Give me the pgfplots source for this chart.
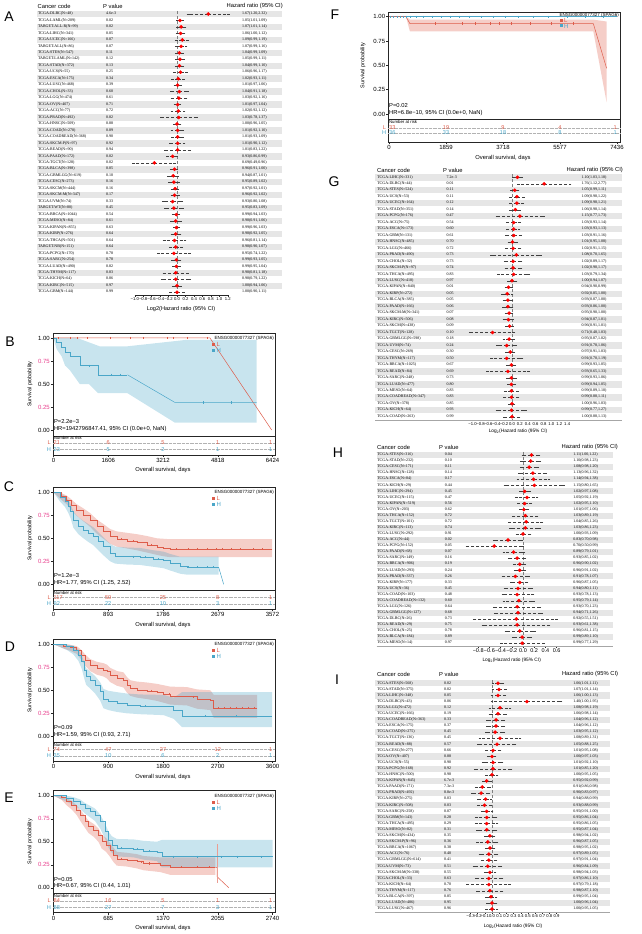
\documentclass[border=0pt]{standalone}
\usepackage{fontspec}
\setmainfont{Liberation Sans}
\newfontfamily\tms{Liberation Serif}
\usepackage{pgfplots}
\pgfplotsset{compat=1.18}
\usepackage{pgfplotstable}
\definecolor{Lc}{RGB}{221,92,74}
\definecolor{Hc}{RGB}{74,166,200}
\definecolor{pk}{RGB}{232,62,140}
\definecolor{bandc}{RGB}{230,230,230}
\newcommand\fs[1]{\fontsize{#1}{#1}\selectfont}
\newcommand\lt[1]{\raisebox{-1.4pt}[0pt][0pt]{\makebox[0pt][l]{\tms\fs{4}#1}}}

\pgfplotsset{
 forest/.style={scale only axis, axis y line=none, axis x line*=bottom, clip=false,
   tick align=outside, major tick length=1.5pt,
   axis line style={line width=0.35pt,black!85,-}, tick style={line width=0.35pt,black!85},
   xticklabel style={font=\fs{4.2},inner sep=0.8pt}},
 txt/.style={draw=none, point meta=explicit symbolic,
   every node near coord/.append style={inner sep=0pt}},
 fpts/.style={only marks, mark=*, mark size=1.6pt, color=red,
   error bars/.cd, x dir=both, x explicit,
   error bar style={densely dashed, black!75, line width=0.3pt},
   error mark options={black!75, line width=0.3pt, mark size=1.4pt}},
 kmmain/.style={scale only axis, width=222pt, height=103pt, ymin=-0.0652, ymax=1.0543,
   xtick=\empty, ytick={0,0.25,0.5,0.75,1}, ytick pos=left, tick align=outside,
   major tick length=2pt, axis line style={line width=0.5pt,black!85},
   tick style={line width=0.4pt,black!85}, yticklabel style={font=\fs{6},inner sep=1pt},
   yticklabels={0.00,\textcolor{pk}{0.25},0.50,\textcolor{pk}{0.75},1.00}},
 kmrisk/.style={scale only axis, width=222pt, height=19pt, ymin=0, ymax=3, ytick=\empty,
   xtick pos=left, tick align=outside, major tick length=2pt,
   axis line style={line width=0.5pt,black!85}, tick style={line width=0.4pt,black!85},
   xticklabel style={font=\fs{6},inner sep=1pt}, clip=false},
 cen/.style={only marks, mark=|, mark size=1.1pt, mark options={line width=0.3pt}},
 bandL/.style={fill=Lc, fill opacity=0.3, draw=none},
 bandH/.style={fill=Hc, fill opacity=0.3, draw=none},
}

\newcommand\forestplots[4]{%
 \addplot[txt, nodes near coords={\lt{\pgfplotspointmeta}}] table[x expr=#2, y expr={-\coordindex-1}, meta=name]{#1};
 \addplot[txt, nodes near coords={\lt{\pgfplotspointmeta}}] table[x expr=#3, y expr={-\coordindex-1}, meta=p]{#1};
 \addplot[txt, nodes near coords={\lt{\pgfplotspointmeta}}] table[x expr=#4, y expr={-\coordindex-1}, meta=ci]{#1};
 \addplot[fpts] table[x expr={log2(\thisrow{hr})}, y expr={-\coordindex-1},
   x error plus expr={log2(\thisrow{up})-log2(\thisrow{hr})},
   x error minus expr={log2(\thisrow{hr})-log2(\thisrow{lo})}]{#1};
}
\newcommand\riskrow[7]{%
 \node[anchor=west,text=#1,font=\fs{5.6},inner sep=0] at (axis cs:0,#2) {#3};
 \node[text=#1,font=\fs{5.6},inner sep=0] at (axis cs:\ta,#2) {#4};
 \node[text=#1,font=\fs{5.6},inner sep=0] at (axis cs:\tb,#2) {#5};
 \node[text=#1,font=\fs{5.6},inner sep=0] at (axis cs:\tc,#2) {#6};
 \node[anchor=east,text=#1,font=\fs{5.6},inner sep=0] at (axis cs:\td,#2) {#7};}
\newcommand\riskdeco[2]{%
 \draw[densely dotted, gray!60, line width=0.3pt] (rel axis cs:0,#1) -- (rel axis cs:1,#1);
 \draw[densely dotted, gray!60, line width=0.3pt] (rel axis cs:0,#2) -- (rel axis cs:1,#2);
 \node[anchor=north west,font=\fs{4.3},inner sep=0.6pt] at (rel axis cs:0,1) {Number at risk};
 \node[anchor=east,text=Lc,font=\fs{5.6},inner sep=0,xshift=-2pt] at (rel axis cs:0,#1) {L};
 \node[anchor=east,text=Hc,font=\fs{5.6},inner sep=0,xshift=-2pt] at (rel axis cs:0,#2) {H};}
\newcommand\kmleg[5]{%
 \node[anchor=east,font=\fs{4.5},inner sep=0] at (#5,-#2) {ENSG00000077327 (SPAG6)};
 \fill[Lc] (#1-1.5,-#3-1.5) rectangle (#1+1.5,-#3+1.5);
 \node[anchor=west,font=\fs{6},text=Lc,inner sep=0] at (#1+3,-#3) {L};
 \fill[Hc] (#1-1.5,-#4-1.5) rectangle (#1+1.5,-#4+1.5);
 \node[anchor=west,font=\fs{6},text=Hc,inner sep=0] at (#1+3,-#4) {H};}
\newcommand\kmtxt[5]{%
 \node[anchor=west,font=\fs{5.8},inner sep=0] at (#1,-#2) {#4};
 \node[anchor=west,font=\fs{5.8},inner sep=0] at (#1,-#3) {#5};}
\newcommand\kmlab[4]{%
 \node[font=\fs{5.8},inner sep=0] at (#1,-#2) {Overall survival, days};
 \node[font=\fs{5.4},rotate=90,inner sep=0] at (#3,-#4) {Survival probability};}
\newcommand\fhead[4]{%
 \node[anchor=west,font=\fs{5.8},inner sep=0] at (#1,-#4) {Cancer code};
 \node[anchor=west,font=\fs{5.8},inner sep=0] at (#2,-#4) {P value};
 \node[anchor=east,font=\fs{5.8},inner sep=0] at (#3,-#4) {Hazard ratio (95\% CI)};}

% ---------------- forest data ----------------
\pgfplotstableread[col sep=semicolon]{
name;p;hr;lo;up;ci
TCGA-DLBC(N=48);4.6e-3;1.67;1.20;2.32;1.67(1.20,2.32)
TCGA-LAML(N=209);0.02;1.05;1.01;1.09;1.05(1.01,1.09)
TARGET-ALL-R(N=99);0.02;1.07;1.01;1.14;1.07(1.01,1.14)
TCGA-LIHC(N=341);0.05;1.06;1.00;1.12;1.06(1.00,1.12)
TCGA-UCEC(N=166);0.07;1.09;0.99;1.19;1.09(0.99,1.19)
TARGET-ALL(N=86);0.07;1.07;0.99;1.16;1.07(0.99,1.16)
TCGA-STES(N=547);0.11;1.04;0.99;1.09;1.04(0.99,1.09)
TARGET-LAML(N=142);0.12;1.05;0.99;1.11;1.05(0.99,1.11)
TCGA-STAD(N=372);0.13;1.04;0.99;1.10;1.04(0.99,1.10)
TCGA-UCS(N=55);0.25;1.06;0.96;1.17;1.06(0.96,1.17)
TCGA-ESCA(N=175);0.34;1.02;0.93;1.11;1.02(0.93,1.11)
TCGA-LUSC(N=468);0.39;1.01;0.97;1.06;1.01(0.97,1.06)
TCGA-CHOL(N=33);0.60;1.04;0.91;1.18;1.04(0.91,1.18)
TCGA-LGG(N=474);0.61;1.03;0.92;1.16;1.03(0.92,1.16)
TCGA-OV(N=407);0.71;1.01;0.97;1.04;1.01(0.97,1.04)
TCGA-ACC(N=77);0.72;1.02;0.92;1.12;1.02(0.92,1.12)
TCGA-PRAD(N=492);0.82;1.03;0.78;1.37;1.03(0.78,1.37)
TCGA-HNSC(N=509);0.88;1.00;0.96;1.05;1.00(0.96,1.05)
TCGA-COAD(N=278);0.89;1.01;0.92;1.10;1.01(0.92,1.10)
TCGA-COADREAD(N=368);0.90;1.01;0.93;1.09;1.01(0.93,1.09)
TCGA-SKCM-P(N=97);0.92;1.01;0.90;1.12;1.01(0.90,1.12)
TCGA-READ(N=90);0.94;1.01;0.83;1.22;1.01(0.83,1.22)
TCGA-PAAD(N=172);0.02;0.93;0.86;0.99;0.93(0.86,0.99)
TCGA-TGCT(N=128);0.02;0.69;0.49;0.96;0.69(0.49,0.96)
TCGA-BLCA(N=398);0.05;0.96;0.91;1.00;0.96(0.91,1.00)
TCGA-GBMLGG(N=619);0.10;0.94;0.87;1.01;0.94(0.87,1.01)
TCGA-CESC(N=273);0.16;0.95;0.89;1.02;0.95(0.89,1.02)
TCGA-SKCM(N=444);0.16;0.97;0.92;1.01;0.97(0.92,1.01)
TCGA-SKCM-M(N=347);0.17;0.96;0.92;1.02;0.96(0.92,1.02)
TCGA-UVM(N=74);0.33;0.93;0.80;1.08;0.93(0.80,1.08)
TARGET-WT(N=80);0.45;0.95;0.83;1.09;0.95(0.83,1.09)
TCGA-BRCA(N=1044);0.54;0.99;0.94;1.03;0.99(0.94,1.03)
TCGA-MESO(N=84);0.61;0.98;0.91;1.06;0.98(0.91,1.06)
TCGA-KIPAN(N=855);0.63;0.99;0.96;1.03;0.99(0.96,1.03)
TCGA-KIRP(N=276);0.64;0.98;0.92;1.05;0.98(0.92,1.05)
TCGA-THCA(N=501);0.64;0.96;0.81;1.14;0.96(0.81,1.14)
TARGET-NB(N=151);0.64;0.98;0.90;1.07;0.98(0.90,1.07)
TCGA-PCPG(N=170);0.78;0.95;0.74;1.22;0.95(0.74,1.22)
TCGA-SARC(N=254);0.78;0.99;0.93;1.05;0.99(0.93,1.05)
TCGA-LUAD(N=490);0.82;0.99;0.95;1.04;0.99(0.95,1.04)
TCGA-THYM(N=117);0.83;0.98;0.81;1.18;0.98(0.81,1.18)
TCGA-KICH(N=64);0.86;0.98;0.79;1.22;0.98(0.79,1.22)
TCGA-KIRC(N=515);0.97;1.00;0.94;1.06;1.00(0.94,1.06)
TCGA-GBM(N=144);0.99;1.00;0.90;1.11;1.00(0.90,1.11)
}\tabA

\pgfplotstableread[col sep=semicolon]{
name;p;hr;lo;up;ci
TCGA-LIHC(N=331);7.2e-3;1.10;1.03;1.18;1.10(1.03,1.18)
TCGA-DLBC(N=44);0.01;1.76;1.12;2.77;1.76(1.12,2.77)
TCGA-STES(N=524);0.11;1.05;0.99;1.11;1.05(0.99,1.11)
TCGA-UCS(N=53);0.11;1.09;0.98;1.22;1.09(0.98,1.22)
TCGA-UCEC(N=164);0.12;1.09;0.98;1.21;1.09(0.98,1.21)
TCGA-STAD(N=351);0.14;1.06;0.98;1.14;1.06(0.98,1.14)
TCGA-PCPG(N=176);0.47;1.15;0.77;1.73;1.15(0.77,1.73)
TCGA-ACC(N=75);0.54;1.03;0.93;1.14;1.03(0.93,1.14)
TCGA-ESCA(N=173);0.60;1.03;0.93;1.13;1.03(0.93,1.13)
TCGA-GBM(N=131);0.61;1.03;0.91;1.16;1.03(0.91,1.16)
TCGA-HNSC(N=485);0.70;1.01;0.95;1.08;1.01(0.95,1.08)
TCGA-LGG(N=466);0.72;1.02;0.91;1.15;1.02(0.91,1.15)
TCGA-PRAD(N=490);0.73;1.08;0.70;1.65;1.08(0.70,1.65)
TCGA-CHOL(N=32);0.73;1.02;0.89;1.17;1.02(0.89,1.17)
TCGA-SKCM-P(N=97);0.74;1.02;0.90;1.17;1.02(0.90,1.17)
TCGA-THCA(N=495);0.83;1.03;0.79;1.34;1.03(0.79,1.34)
TCGA-LUSC(N=418);0.97;1.00;0.94;1.07;1.00(0.94,1.07)
TCGA-KIPAN(N=840);0.01;0.94;0.90;0.99;0.94(0.90,0.99)
TCGA-KIRP(N=272);0.05;0.92;0.85;1.00;0.92(0.85,1.00)
TCGA-BLCA(N=385);0.05;0.93;0.87;1.00;0.93(0.87,1.00)
TCGA-PAAD(N=166);0.06;0.93;0.86;1.00;0.93(0.86,1.00)
TCGA-SKCM-M(N=341);0.07;0.95;0.90;1.00;0.95(0.90,1.00)
TCGA-KIRC(N=506);0.08;0.94;0.87;1.01;0.94(0.87,1.01)
TCGA-SKCM(N=438);0.09;0.96;0.91;1.01;0.96(0.91,1.01)
TCGA-TGCT(N=128);0.10;0.71;0.48;1.03;0.71(0.48,1.03)
TCGA-GBMLGG(N=598);0.18;0.95;0.87;1.02;0.95(0.87,1.02)
TCGA-UVM(N=74);0.24;0.91;0.78;1.06;0.91(0.78,1.06)
TCGA-CESC(N=269);0.30;0.97;0.91;1.03;0.97(0.91,1.03)
TCGA-THYM(N=117);0.50;0.91;0.70;1.19;0.91(0.70,1.19)
TCGA-BRCA(N=1025);0.67;0.99;0.93;1.05;0.99(0.93,1.05)
TCGA-READ(N=84);0.69;0.93;0.65;1.33;0.93(0.65,1.33)
TCGA-SARC(N=248);0.73;0.99;0.93;1.06;0.99(0.93,1.06)
TCGA-LUAD(N=477);0.80;0.99;0.94;1.05;0.99(0.94,1.05)
TCGA-MESO(N=64);0.83;0.99;0.89;1.10;0.99(0.89,1.10)
TCGA-COADREAD(N=347);0.83;0.99;0.88;1.11;0.99(0.88,1.11)
TCGA-OV(N=378);0.85;1.00;0.96;1.03;1.00(0.96,1.03)
TCGA-KICH(N=64);0.93;0.99;0.77;1.27;0.99(0.77,1.27)
TCGA-COAD(N=263);0.99;1.00;0.88;1.13;1.00(0.88,1.13)
}\tabG

\pgfplotstableread[col sep=semicolon]{
name;p;hr;lo;up;ci
TCGA-STES(N=316);0.04;1.11;1.00;1.22;1.11(1.00,1.22)
TCGA-STAD(N=232);0.10;1.10;0.98;1.23;1.10(0.98,1.23)
TCGA-CESC(N=171);0.11;1.08;0.98;1.20;1.08(0.98,1.20)
TCGA-HNSC(N=128);0.14;1.13;0.96;1.32;1.13(0.96,1.32)
TCGA-ESCA(N=84);0.17;1.14;0.94;1.38;1.14(0.94,1.38)
TCGA-KICH(N=29);0.44;1.15;0.80;1.65;1.15(0.80,1.65)
TCGA-LIHC(N=294);0.45;1.02;0.97;1.08;1.02(0.97,1.08)
TCGA-UCEC(N=115);0.47;1.05;0.92;1.19;1.05(0.92,1.19)
TCGA-KIPAN(N=519);0.56;1.02;0.95;1.10;1.02(0.95,1.10)
TCGA-OV(N=203);0.62;1.01;0.97;1.06;1.01(0.97,1.06)
TCGA-THCA(N=152);0.72;1.03;0.89;1.19;1.03(0.89,1.19)
TCGA-TGCT(N=101);0.72;1.04;0.85;1.26;1.04(0.85,1.26)
TCGA-KIRC(N=113);0.74;1.03;0.86;1.23;1.03(0.86,1.23)
TCGA-LUSC(N=292);0.91;1.00;0.93;1.09;1.00(0.93,1.09)
TCGA-ACC(N=44);0.02;0.83;0.70;0.98;0.83(0.70,0.98)
TCGA-PCPG(N=152);0.05;0.70;0.50;0.99;0.70(0.50,0.99)
TCGA-PAAD(N=68);0.07;0.89;0.79;1.01;0.89(0.79,1.01)
TCGA-SARC(N=149);0.16;0.93;0.85;1.02;0.93(0.85,1.02)
TCGA-BRCA(N=906);0.19;0.96;0.90;1.02;0.96(0.90,1.02)
TCGA-LUAD(N=293);0.24;0.96;0.91;1.02;0.96(0.91,1.02)
TCGA-PRAD(N=337);0.26;0.91;0.78;1.07;0.91(0.78,1.07)
TCGA-KIRP(N=177);0.33;0.96;0.87;1.05;0.96(0.87,1.05)
TCGA-UCS(N=36);0.45;0.94;0.80;1.11;0.94(0.80,1.11)
TCGA-COAD(N=103);0.48;0.93;0.78;1.13;0.93(0.78,1.13)
TCGA-COADREAD(N=132);0.60;0.95;0.79;1.14;0.95(0.79,1.14)
TCGA-LGG(N=126);0.64;0.93;0.70;1.23;0.93(0.70,1.23)
TCGA-GBMLGG(N=127);0.68;0.94;0.71;1.26;0.94(0.71,1.26)
TCGA-DLBC(N=26);0.73;0.92;0.55;1.51;0.92(0.55,1.51)
TCGA-READ(N=29);0.75;0.93;0.61;1.38;0.93(0.61,1.38)
TCGA-CHOL(N=25);0.78;0.96;0.81;1.15;0.96(0.81,1.15)
TCGA-BLCA(N=184);0.89;0.99;0.89;1.10;0.99(0.89,1.10)
TCGA-MESO(N=14);0.97;0.99;0.77;1.29;0.99(0.77,1.29)
}\tabH

\pgfplotstableread[col sep=semicolon]{
name;p;hr;lo;up;ci
TCGA-STES(N=568);0.02;1.06;1.01;1.11;1.06(1.01,1.11)
TCGA-STAD(N=375);0.02;1.07;1.01;1.14;1.07(1.01,1.14)
TCGA-LIHC(N=348);0.05;1.06;1.00;1.13;1.06(1.00,1.13)
TCGA-DLBC(N=43);0.06;1.40;1.00;1.95;1.40(1.00,1.95)
TCGA-LGG(N=472);0.12;1.08;0.98;1.19;1.08(0.98,1.19)
TCGA-UCEC(N=166);0.19;1.06;0.98;1.14;1.06(0.98,1.14)
TCGA-COADREAD(N=363);0.33;1.04;0.96;1.12;1.04(0.96,1.12)
TCGA-ESCA(N=175);0.37;1.04;0.96;1.12;1.04(0.96,1.12)
TCGA-COAD(N=275);0.45;1.03;0.95;1.12;1.03(0.95,1.12)
TCGA-TGCT(N=136);0.45;1.08;0.89;1.31;1.08(0.89,1.31)
TCGA-READ(N=88);0.57;1.05;0.88;1.25;1.05(0.88,1.25)
TCGA-CESC(N=277);0.66;1.01;0.95;1.08;1.01(0.95,1.08)
TCGA-OV(N=407);0.88;1.00;0.97;1.03;1.00(0.97,1.03)
TCGA-UCS(N=55);0.90;1.01;0.92;1.10;1.01(0.92,1.10)
TCGA-PCPG(N=168);0.92;1.01;0.85;1.20;1.01(0.85,1.20)
TCGA-HNSC(N=500);0.98;1.00;0.95;1.05;1.00(0.95,1.05)
TCGA-KIPAN(N=845);6.7e-3;0.95;0.92;0.99;0.95(0.92,0.99)
TCGA-PAAD(N=171);7.3e-3;0.91;0.86;0.98;0.91(0.86,0.98)
TCGA-PRAD(N=492);8.8e-3;0.90;0.83;0.97;0.90(0.83,0.97)
TCGA-KIRP(N=275);0.03;0.94;0.88;0.99;0.94(0.88,0.99)
TCGA-KIRC(N=508);0.03;0.93;0.88;0.99;0.93(0.88,0.99)
TCGA-SARC(N=258);0.07;0.95;0.91;1.00;0.95(0.91,1.00)
TCGA-GBM(N=143);0.28;0.95;0.86;1.04;0.95(0.86,1.04)
TCGA-THCA(N=495);0.29;0.95;0.86;1.05;0.95(0.86,1.05)
TCGA-MESO(N=82);0.31;0.95;0.87;1.04;0.95(0.87,1.04)
TCGA-SKCM(N=434);0.35;0.98;0.94;1.02;0.98(0.94,1.02)
TCGA-SKCM-P(N=96);0.36;0.96;0.87;1.05;0.96(0.87,1.05)
TCGA-BRCA(N=1067);0.38;0.98;0.95;1.02;0.98(0.95,1.02)
TCGA-ACC(N=76);0.40;0.97;0.89;1.05;0.97(0.89,1.05)
TCGA-GBMLGG(N=614);0.41;0.97;0.91;1.04;0.97(0.91,1.04)
TCGA-UVM(N=73);0.51;0.96;0.84;1.09;0.96(0.84,1.09)
TCGA-SKCM-M(N=338);0.55;0.98;0.94;1.03;0.98(0.94,1.03)
TCGA-CHOL(N=33);0.63;0.97;0.86;1.10;0.97(0.86,1.10)
TCGA-KICH(N=64);0.70;0.97;0.79;1.18;0.97(0.79,1.18)
TCGA-THYM(N=117);0.76;0.98;0.87;1.10;0.98(0.87,1.10)
TCGA-BLCA(N=397);0.85;0.99;0.95;1.04;0.99(0.95,1.04)
TCGA-LUAD(N=486);0.95;1.00;0.96;1.04;1.00(0.96,1.04)
TCGA-LUSC(N=467);0.96;1.00;0.95;1.05;1.00(0.95,1.05)
}\tabI

% ---------------- KM data ----------------
\pgfplotstableread{
t S
0 1.00
90 0.95
240 0.90
340 0.85
480 0.80
770 0.70
1310 0.60
2170 0.60
}\BH

\pgfplotstableread{
t S
0 1.000
133 0.953
215 0.917
297 0.862
379 0.808
488 0.754
597 0.700
706 0.627
815 0.572
924 0.518
1033 0.489
1196 0.471
1360 0.453
1523 0.428
1686 0.402
1795 0.391
1904 0.380
3566 0.380
}\CL
\pgfplotstableread{
t S
0 1.000
106 0.946
188 0.900
242 0.844
281 0.790
324 0.700
406 0.634
488 0.590
569 0.554
651 0.518
733 0.464
815 0.409
924 0.337
1005 0.308
1196 0.300
1414 0.293
1632 0.272
1795 0.257
1904 0.228
2067 0.192
2176 0.185
2694 0.185
}\CH

\pgfplotstableread{
t S
0 1.000
162 0.980
272 0.964
382 0.938
464 0.884
519 0.830
601 0.775
711 0.739
821 0.721
876 0.703
931 0.667
1041 0.630
1151 0.612
1206 0.558
1261 0.522
1371 0.504
1535 0.493
1700 0.475
1810 0.457
1920 0.438
2194 0.431
2359 0.402
2579 0.388
2634 0.308
3348 0.308
}\DL
\pgfplotstableread{
t S
0 1.000
217 0.975
327 0.938
409 0.884
464 0.812
503 0.721
536 0.649
601 0.612
684 0.558
766 0.486
821 0.402
903 0.377
1041 0.359
1206 0.341
1426 0.330
1810 0.322
1975 0.286
2112 0.221
3594 0.221
}\DH

\pgfplotstableread{
t S
0 1.000
102 0.980
165 0.935
228 0.899
290 0.844
332 0.790
395 0.717
437 0.663
500 0.627
562 0.572
604 0.500
658 0.464
708 0.409
750 0.355
792 0.312
917 0.301
1043 0.283
1126 0.264
1335 0.246
1461 0.221
2025 0.221
}\EL
\pgfplotstableread{
t S
0 1.000
165 0.971
249 0.942
332 0.906
395 0.862
458 0.826
520 0.790
583 0.717
646 0.609
688 0.518
729 0.464
792 0.428
1001 0.420
1126 0.399
1294 0.384
1356 0.337
2740 0.337
}\EH

\begin{document}
\begin{tikzpicture}[x=1pt,y=1pt]
\useasboundingbox (0,0) rectangle (641,-934);

% panel letters
\foreach \l/\x/\y in {A/9/17,B/10/342,C/9/487,D/10/647,E/9/798,F/335/15,G/334/182,H/338/453,I/337/680}
  \node[font=\fs{14},inner sep=0] at (\x,-\y) {\l};

% ================= A =================
\fhead{37.5}{103}{283}{6}
\begin{axis}[forest, at={(134.7pt,-10.765pt)}, anchor=north west, width=93.06pt, height=284.68pt,
  xmin=-1, xmax=1.2, ymin=-44.5, ymax=-0.5,
  xtick={-1,-0.8,-0.6,-0.4,-0.2,0,0.2,0.4,0.6,0.8,1,1.2},
  xticklabels={−1.0,−0.8,−0.6,−0.4,−0.2,0.0,0.2,0.4,0.6,0.8,1.0,1.2}]
\pgfplotsinvokeforeach{1,3,...,43}{\fill[bandc] (axis cs:-3.31,-#1+0.5) rectangle (axis cs:2.482,-#1-0.5);}
\draw[densely dashed, gray, line width=0.35pt] (axis cs:0,-0.5) -- (axis cs:0,-44.5);
\forestplots{\tabA}{-3.286}{-1.678}{1.537}
\end{axis}
\node[font=\fs{5.6},inner sep=0] at (181,-309) {Log2(Hazard ratio (95\% CI)};

% ================= G =================
\fhead{377}{443}{623}{170}
\draw[black!80, line width=0.4pt] (375,-174.07) -- (621.7,-174.07);
\begin{axis}[forest, at={(472.6pt,-174.065pt)}, anchor=north west, width=94.56pt, height=245.86pt,
  xmin=-1, xmax=1.4, ymin=-38.5, ymax=-0.5,
  xtick={-1,-0.8,-0.6,-0.4,-0.2,0,0.2,0.4,0.6,0.8,1,1.2,1.4},
  xticklabels={−1.0,−0.8,−0.6,−0.4,−0.2,0.0,0.2,0.4,0.6,0.8,1.0,1.2,1.4}]
\pgfplotsinvokeforeach{1,3,...,37}{\fill[bandc] (axis cs:-3.477,-#1+0.5) rectangle (axis cs:2.784,-#1-0.5);}
\draw[gray!70, line width=0.35pt] (axis cs:-3.477,-38.5) -- (axis cs:2.784,-38.5);
\draw[densely dashed, gray, line width=0.35pt] (axis cs:0,-0.5) -- (axis cs:0,-38.5);
\forestplots{\tabG}{-3.419}{-1.657}{1.769}
\end{axis}
\node[font=\fs{4.8},inner sep=0] at (518,-431.7) {Log\textsubscript{2}(Hazard ratio (95\% CI)};

% ================= H =================
\fhead{377}{439}{618}{447.3}
\draw[black!80, line width=0.4pt] (376.7,-451.97) -- (613.3,-451.97);
\begin{axis}[forest, at={(469.24pt,-451.965pt)}, anchor=north west, width=89.04pt, height=194.24pt,
  xmin=-0.96, xmax=0.63, ymin=-32.5, ymax=-0.5,
  xticklabel style={font=\fs{5.5}},
  xtick={-0.8,-0.6,-0.4,-0.2,0,0.2,0.4,0.6},
  xticklabels={−0.8,−0.6,−0.4,−0.2,0.0,0.2,0.4,0.6}]
\pgfplotsinvokeforeach{1,3,...,31}{\fill[bandc] (axis cs:-2.6125,-#1+0.5) rectangle (axis cs:1.6125,-#1-0.5);}
\draw[gray!70, line width=0.35pt] (axis cs:-2.6125,-32.5) -- (axis cs:1.6125,-32.5);
\draw[densely dashed, gray, line width=0.35pt] (axis cs:0,-0.5) -- (axis cs:0,-32.5);
\forestplots{\tabH}{-2.602}{-1.393}{0.898}
\end{axis}
\node[font=\fs{4.8},inner sep=0] at (511.7,-660) {Log\textsubscript{2}(Hazard ratio (95\% CI)};

% ================= I =================
\fhead{377}{439}{618.3}{674}
\draw[black!80, line width=0.4pt] (375,-680.25) -- (610,-680.25);
\begin{axis}[forest, at={(466.9pt,-680.25pt)}, anchor=north west, width=91.06pt, height=231.8pt,
  xmin=-0.35, xmax=0.92, ymin=-38.5, ymax=-0.5,
  xtick={-0.3,-0.2,-0.1,0,0.1,0.2,0.3,0.4,0.5,0.6,0.7,0.8,0.9},
  xticklabels={−0.3,−0.2,−0.1,0.0,0.1,0.2,0.3,0.4,0.5,0.6,0.7,0.8,0.9}]
\pgfplotsinvokeforeach{1,3,...,37}{\fill[bandc] (axis cs:-1.632,-#1+0.5) rectangle (axis cs:1.646,-#1-0.5);}
\draw[gray!70, line width=0.35pt] (axis cs:-1.632,-38.5) -- (axis cs:1.646,-38.5);
\draw[densely dashed, gray, line width=0.35pt] (axis cs:0,-0.5) -- (axis cs:0,-38.5);
\forestplots{\tabI}{-1.600}{-0.669}{1.134}
\end{axis}
\node[font=\fs{4.8},inner sep=0] at (513,-926.7) {Log\textsubscript{2}(Hazard ratio (95\% CI)};

% ================= B =================
\begin{axis}[kmmain, at={(53pt,-333pt)}, anchor=north west, xmin=-14.7, xmax=6497]
\addplot[bandH] coordinates {(0,1)(700,1)(1350,0.91)(2170,0.91)(3900,0.98)(5960,0.98)(5960,0.08)(3560,0.08)(2170,0.40)(1310,0.40)(1040,0.50)(770,0.50)(480,0.65)(340,0.70)(240,0.80)(90,0.88)} -- cycle;
\addplot[Lc, line width=0.5pt] coordinates {(0,1)(4590,1)(6400,0)};
\addplot[const plot, Hc, line width=0.5pt] table[x=t,y=S]{\BH};
\addplot[Hc, line width=0.5pt] coordinates {(2170,0.60)(3560,0.30)(5960,0.30)};
\addplot[cen, Lc] coordinates {(142,1)(484,1)(680,1)(973,1)(1657,1)(2244,1)(2635,1)(3320,1)(3516,1)(3907,1)(4493,1)};
\addplot[cen, Hc] coordinates {(1040,0.70)(1700,0.60)(1950,0.60)(4400,0.30)(5200,0.30)};
\end{axis}
\def\ta{1606}\def\tb{3212}\def\tc{4818}\def\td{6424}
\begin{axis}[kmrisk, at={(53pt,-436pt)}, anchor=north west, xmin=-14.7, xmax=6497,
  xtick={0,1606,3212,4818,6424}, xticklabels={0,1606,3212,4818,6424}]
\riskdeco{0.632}{0.289}
\riskrow{Lc}{1.895}{21}{6}{5}{1}{1}
\riskrow{Hc}{0.868}{23}{5}{2}{1}{1}
\end{axis}
\kmleg{213.5}{338.3}{344.5}{350.5}{274}
\kmtxt{53.8}{421.5}{428.5}{P=2.2e−3}{HR=1942796847.41, 95\% CI (0.0e+0, NaN)}
\kmlab{163}{470}{30}{384}

% ================= C =================
\begin{axis}[kmmain, at={(53pt,-487.3pt)}, anchor=north west, xmin=-8.2, xmax=3613]
\addplot[bandL] coordinates {(0,1)(133,0.990)(215,0.965)(297,0.920)(379,0.870)(488,0.825)(597,0.775)(706,0.705)(815,0.655)(924,0.600)(1033,0.575)(1196,0.560)(1360,0.545)(1523,0.525)(1686,0.500)(1795,0.495)(1904,0.490)(3566,0.490)
 (3566,0.295)(1904,0.295)(1795,0.305)(1686,0.320)(1523,0.345)(1360,0.370)(1196,0.390)(1033,0.410)(924,0.440)(815,0.495)(706,0.550)(597,0.625)(488,0.685)(379,0.745)(297,0.805)(215,0.870)(133,0.915)} -- cycle;
\addplot[bandH] coordinates {(0,1)(106,0.990)(188,0.960)(242,0.915)(281,0.870)(324,0.790)(406,0.730)(488,0.690)(569,0.655)(651,0.620)(733,0.565)(815,0.510)(924,0.440)(1005,0.410)(1196,0.400)(1414,0.395)(1632,0.370)(1795,0.355)(1904,0.330)(2067,0.300)(2694,0.300)
 (2694,0.105)(2176,0.105)(2067,0.115)(1904,0.150)(1795,0.175)(1632,0.190)(1414,0.210)(1196,0.215)(1005,0.225)(924,0.250)(815,0.315)(733,0.370)(651,0.425)(569,0.460)(488,0.500)(406,0.545)(324,0.615)(281,0.715)(242,0.775)(188,0.840)(106,0.900)} -- cycle;
\addplot[const plot, Lc, line width=0.5pt] table[x=t,y=S]{\CL};
\addplot[const plot, Hc, line width=0.5pt] table[x=t,y=S]{\CH};
\addplot[Hc, line width=0.5pt] coordinates {(2694,0.185)(2776,0)};
\addplot[cen, Lc] coordinates {(1100,0.489)(1300,0.471)(1600,0.428)(2000,0.38)(2200,0.38)(2350,0.38)(2500,0.38)(2650,0.38)(2750,0.38)(2900,0.38)(3050,0.38)(3250,0.38)(3400,0.38)};
\addplot[cen, Hc] coordinates {(1300,0.300)(1500,0.293)(1700,0.272)(2200,0.185)(2350,0.185)(2500,0.185)(2600,0.185)};
\end{axis}
\def\ta{893}\def\tb{1786}\def\tc{2679}\def\td{3572}
\begin{axis}[kmrisk, at={(53pt,-590.3pt)}, anchor=north west, xmin=-8.2, xmax=3613,
  xtick={0,893,1786,2679,3572}, xticklabels={0,893,1786,2679,3572}]
\riskdeco{0.632}{0.289}
\riskrow{Lc}{1.895}{117}{50}{25}{8}{1}
\riskrow{Hc}{0.868}{92}{22}{10}{3}{1}
\end{axis}
\kmleg{213.5}{492.6}{498.8}{504.8}{274}
\kmtxt{53.8}{575.8}{582.8}{P=1.2e−3}{HR=1.77, 95\% CI (1.25, 2.52)}
\kmlab{163}{624.6}{30}{538.3}

% ================= D =================
\begin{axis}[kmmain, at={(53pt,-639.3pt)}, anchor=north west, xmin=-8.2, xmax=3641]
\addplot[bandL] coordinates {(0,1)(162,1)(272,0.995)(382,0.980)(464,0.935)(519,0.890)(601,0.840)(711,0.810)(821,0.795)(876,0.780)(931,0.745)(1041,0.710)(1151,0.695)(1206,0.645)(1261,0.610)(1371,0.595)(1535,0.585)(1700,0.570)(1810,0.555)(1920,0.540)(2194,0.535)(2359,0.510)(2579,0.500)(2634,0.450)(3348,0.450)
 (3348,0.200)(2634,0.200)(2579,0.285)(2359,0.300)(2194,0.335)(1920,0.345)(1810,0.365)(1700,0.385)(1535,0.405)(1371,0.420)(1261,0.440)(1206,0.475)(1151,0.530)(1041,0.550)(931,0.590)(876,0.630)(821,0.650)(711,0.670)(601,0.710)(519,0.770)(464,0.830)(382,0.895)(272,0.930)(162,0.955)} -- cycle;
\addplot[bandH] coordinates {(0,1)(217,1)(327,0.985)(409,0.945)(464,0.885)(503,0.805)(536,0.740)(601,0.705)(684,0.655)(766,0.590)(821,0.515)(903,0.495)(1041,0.480)(1206,0.465)(1426,0.455)(1810,0.450)(1975,0.420)(2112,0.480)(3594,0.480)
 (3594,0.100)(2112,0.100)(1975,0.190)(1810,0.230)(1426,0.240)(1206,0.250)(1041,0.265)(903,0.285)(821,0.305)(766,0.390)(684,0.465)(601,0.520)(536,0.560)(503,0.635)(464,0.735)(409,0.820)(327,0.890)(217,0.940)} -- cycle;
\addplot[const plot, Lc, line width=0.5pt] table[x=t,y=S]{\DL};
\addplot[const plot, Hc, line width=0.5pt] table[x=t,y=S]{\DH};
\addplot[cen, Lc] coordinates {(1600,0.493)(1900,0.457)(2300,0.431)(2700,0.308)(2800,0.308)(2900,0.308)(3000,0.308)(3100,0.308)(3200,0.308)(3300,0.308)};
\addplot[cen, Hc] coordinates {(1500,0.330)(2500,0.221)(3000,0.221)};
\end{axis}
\def\ta{900}\def\tb{1800}\def\tc{2700}\def\td{3600}
\begin{axis}[kmrisk, at={(53pt,-742.3pt)}, anchor=north west, xmin=-8.2, xmax=3641,
  xtick={0,900,1800,2700,3600}, xticklabels={0,900,1800,2700,3600}]
\riskdeco{0.632}{0.289}
\riskrow{Lc}{1.895}{74}{47}{27}{12}{1}
\riskrow{Hc}{0.868}{35}{10}{6}{2}{1}
\end{axis}
\kmleg{213.5}{644.6}{650.8}{656.8}{274}
\kmtxt{53.8}{727.8}{734.8}{P=0.09}{HR=1.59, 95\% CI (0.93, 2.71)}
\kmlab{163}{776.6}{30}{690.3}

% ================= E =================
\begin{axis}[kmmain, at={(53pt,-790.7pt)}, anchor=north west, xmin=-6.3, xmax=2771]
\addplot[bandL] coordinates {(0,1)(102,1)(165,0.975)(228,0.945)(290,0.895)(332,0.850)(395,0.780)(437,0.730)(500,0.695)(562,0.645)(604,0.575)(658,0.540)(708,0.485)(750,0.435)(792,0.390)(917,0.380)(1043,0.365)(1126,0.345)(1335,0.330)(2025,0.330)
 (2025,0.140)(1461,0.140)(1335,0.170)(1126,0.190)(1043,0.210)(917,0.230)(792,0.240)(750,0.280)(708,0.335)(658,0.390)(604,0.425)(562,0.500)(500,0.555)(437,0.595)(395,0.650)(332,0.730)(290,0.790)(228,0.850)(165,0.895)(102,0.955)} -- cycle;
\addplot[bandH] coordinates {(0,1)(165,1)(249,0.985)(332,0.960)(395,0.920)(458,0.890)(520,0.860)(583,0.795)(646,0.695)(688,0.610)(729,0.560)(792,0.530)(1001,0.525)(1126,0.510)(1294,0.500)(1356,0.520)(2740,0.520)
 (2740,0.220)(1356,0.220)(1294,0.290)(1126,0.305)(1001,0.330)(792,0.340)(729,0.380)(688,0.435)(646,0.530)(583,0.645)(520,0.725)(458,0.765)(395,0.805)(332,0.855)(249,0.900)(165,0.935)} -- cycle;
\addplot[const plot, Lc, line width=0.5pt] table[x=t,y=S]{\EL};
\addplot[Lc, line width=0.5pt] coordinates {(2025,0.221)(2046,0.221)(2046,0.12)(2192,0)};
\addplot[Lc!60, line width=0.4pt] coordinates {(2046,0.47)(2046,0.05)};
\addplot[const plot, Hc, line width=0.5pt] table[x=t,y=S]{\EH};
\addplot[cen, Lc] coordinates {(850,0.312)(1100,0.283)(1200,0.264)(1600,0.221)(1800,0.221)(1950,0.221)};
\addplot[cen, Hc] coordinates {(850,0.428)(1050,0.420)(1200,0.399)(1500,0.337)(1800,0.337)(2100,0.337)(2300,0.337)(2600,0.337)};
\end{axis}
\def\ta{685}\def\tb{1370}\def\tc{2055}\def\td{2740}
\begin{axis}[kmrisk, at={(53pt,-893.7pt)}, anchor=north west, xmin=-6.3, xmax=2771,
  xtick={0,685,1370,2055,2740}, xticklabels={0,685,1370,2055,2740}]
\riskdeco{0.632}{0.289}
\riskrow{Lc}{1.895}{84}{16}{5}{1}{1}
\riskrow{Hc}{0.868}{88}{27}{7}{3}{1}
\end{axis}
\kmleg{213.5}{796}{802.2}{808.2}{274}
\kmtxt{53.8}{879.2}{886.2}{P=0.05}{HR=0.67, 95\% CI (0.44, 1.01)}
\kmlab{163}{928}{30}{841.7}

% ================= F =================
\begin{axis}[kmmain, at={(388.3pt,-12.7pt)}, anchor=north west, width=231.7pt, height=106.8pt,
  xmin=-23, xmax=7534, ymin=-0.0565, ymax=1.041, yticklabels={0.00,0.25,0.50,0.75,1.00}]
\addplot[bandL] coordinates {(554,1)(680,0.97)(6663,0.97)(7098,0.95)(7098,0.12)(6663,0.85)(680,0.85)} -- cycle;
\addplot[Hc, line width=0.5pt] coordinates {(0,1)(7436,1)};
\addplot[Lc, line width=0.5pt] coordinates {(0,1)(554,1)(680,0.93)(6663,0.93)(7098,0.469)};
\addplot[cen, Hc] coordinates {(50,1)(150,1)(250,1)(350,1)(450,1)(550,1)(700,1)(900,1)(1100,1)(1400,1)(1700,1)(2000,1)(2300,1)(2600,1)(3000,1)(3400,1)(3800,1)(4200,1)(4700,1)(5200,1)(5800,1)(6400,1)(7000,1)};
\addplot[cen, Lc] coordinates {(1500,0.93)(2400,0.93)(2800,0.93)(3300,0.93)(3600,0.93)(4000,0.93)(4600,0.93)(5300,0.93)(6000,0.93)};
\end{axis}
\def\ta{1859}\def\tb{3718}\def\tc{5577}\def\td{7436}
\begin{axis}[kmrisk, at={(388.3pt,-119.5pt)}, anchor=north west, width=231.7pt, height=22.5pt,
  xmin=-23, xmax=7534, xtick={0,1859,3718,5577,7436}, xticklabels={0,1859,3718,5577,7436}]
\riskdeco{0.622}{0.4}
\riskrow{Lc}{1.867}{33}{19}{9}{4}{1}
\riskrow{Hc}{1.2}{36}{33}{18}{8}{1}
\end{axis}
\kmleg{561}{15}{20.7}{26}{619}
\kmtxt{389}{105.5}{112.5}{P=0.02}{HR=6.8e−10, 95\% CI (0.0e+0, NaN)}
\kmlab{503}{158.3}{363}{65.4}

\end{tikzpicture}
\end{document}
